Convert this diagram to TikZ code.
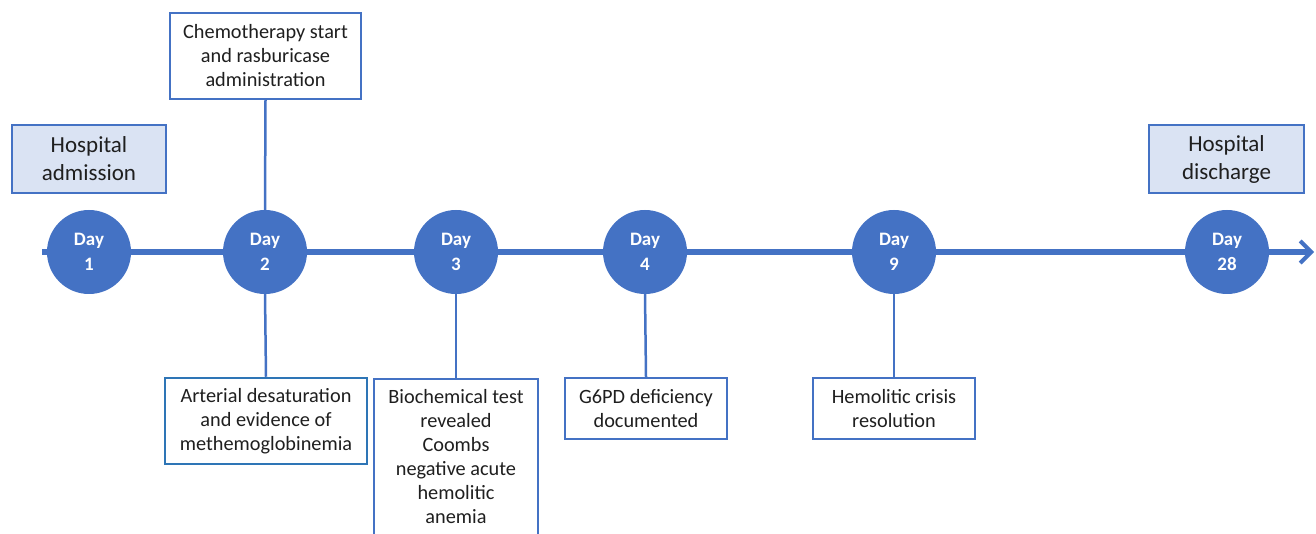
\documentclass[tikz,border=0pt]{standalone}
\usepackage{fontspec}
\setmainfont{Carlito}
\usetikzlibrary{arrows.meta}
\definecolor{tblue}{HTML}{4472C4}
\definecolor{tdark}{HTML}{2E75B6}
\definecolor{tfill}{HTML}{DAE3F3}
\begin{document}
\begin{tikzpicture}[x=1pt,y=-1pt,
  daycirc/.style={circle,fill=tblue,draw=none,minimum size=84pt,inner sep=0pt,
    text=white,font=\fontsize{19}{25}\selectfont\bfseries,align=center},
  evbox/.style={rectangle,draw=tblue,line width=2pt,fill=white,inner sep=2pt,
    font=\fontsize{20.3}{24}\selectfont,align=center,text=black!88},
  hospbox/.style={evbox,fill=tfill,font=\fontsize{23}{28}\selectfont},
  conn/.style={draw=tblue,line width=2.5pt},
  tline/.style={draw=tblue,line width=5.5pt}
]
\useasboundingbox (0,0) rectangle (1316,534);
\clip (0,0) rectangle (1316,534);
\coordinate (start) at (42,252);
\coordinate (end) at (1314,252);
\draw[tline,-{Straight Barb[length=11pt,width=22pt,line width=4pt]}] (start) -- (end);

\node[daycirc] (d1) at (89,252) {Day\\1};
\node[daycirc] (d2) at (265,252) {Day\\2};
\node[daycirc] (d3) at (456,252) {Day\\3};
\node[daycirc] (d4) at (645,252) {Day\\4};
\node[daycirc] (d9) at (894,252) {Day\\9};
\node[daycirc] (d28) at (1227,252) {Day\\28};

\node[hospbox,minimum width=154pt,minimum height=68pt] (adm) at (89,159) {Hospital\\admission};
\node[hospbox,minimum width=155pt,minimum height=68pt] (dis) at (1226.5,159) {Hospital\\discharge};

\node[evbox,minimum width=191pt,minimum height=86pt] (chemo) at (265.5,56) {Chemotherapy start\\and rasburicase\\administration};
\node[evbox,draw=tdark,line width=2.5pt,minimum width=202pt,minimum height=86pt] (art) at (266,421) {Arterial desaturation\\and evidence of\\methemoglobinemia};
\node[evbox,anchor=north,minimum width=164pt,inner ysep=10pt] (bio) at (456,378) {Biochemical test\\revealed\\Coombs\\negative acute\\hemolitic\\anemia\\[4pt]\mbox{}};
\node[evbox,minimum width=162pt,minimum height=61pt] (g6) at (646,408.5) {G6PD deficiency\\documented};
\node[evbox,minimum width=162pt,minimum height=61pt] (hem) at (894,408.5) {Hemolitic crisis\\resolution};

\draw[conn] (chemo.south) -- (d2.north);
\draw[conn] (d2.south) -- (art.north);
\draw[conn] (d3.south) -- (bio.north);
\draw[conn] (d4.south) -- (g6.north);
\draw[conn] (d9.south) -- (hem.north);
\end{tikzpicture}
\end{document}
